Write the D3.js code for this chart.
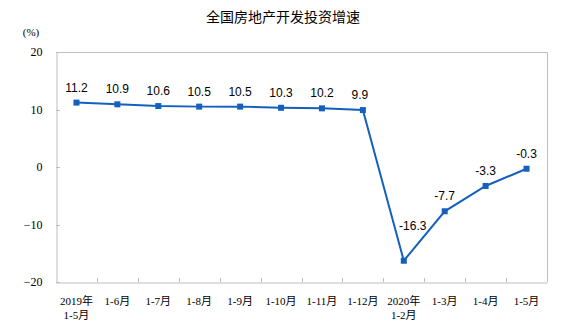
<!DOCTYPE html>
<html><head><meta charset="utf-8">
<script src="https://cdn.jsdelivr.net/npm/d3@7/dist/d3.min.js"></script>
<style>body{margin:0;background:#fff}</style>
</head><body>
<svg id="c" width="565" height="331"></svg>
<script>
const categories = [["2019年","1-5月"],["1-6月"],["1-7月"],["1-8月"],["1-9月"],["1-10月"],["1-11月"],["1-12月"],["2020年","1-2月"],["1-3月"],["1-4月"],["1-5月"]];
const values = [11.2,10.9,10.6,10.5,10.5,10.3,10.2,9.9,-16.3,-7.7,-3.3,-0.3];
const yTicks = [20,10,0,-10,-20];
const title = "全国房地产开发投资增速";

const svg = d3.select("#c");
const L=56,R=547,T=52,B=282;
const x = d3.scaleBand().domain(d3.range(values.length)).range([L,R]);
const y = d3.scaleLinear().domain([-20,20]).range([B,T]);
const grey="#bdbdbd", blue="#1560bd";
const serif="'Liberation Serif','Noto Sans CJK SC',serif";
const cjk="'Noto Sans CJK SC',sans-serif";

svg.append("text").attr("x",283).attr("y",22).attr("text-anchor","middle")
  .style("font-family",cjk).style("font-size","14px").attr("fill","#000").text(title);
svg.append("text").attr("x",31).attr("y",36).attr("text-anchor","middle")
  .style("font-family",serif).style("font-size","11px").attr("fill","#000").text("(%)");

// frame
svg.append("line").attr("x1",L).attr("x2",R).attr("y1",T+0.5).attr("y2",T+0.5).attr("stroke",grey);
svg.append("line").attr("x1",R+0.5).attr("x2",R+0.5).attr("y1",T).attr("y2",B).attr("stroke",grey);

// y axis
const ya = svg.append("g").attr("transform",`translate(${L+0.5},0)`)
  .call(d3.axisLeft(y).tickValues(yTicks).tickSize(0).tickPadding(14));
ya.select(".domain").attr("stroke",grey);
ya.selectAll("text").style("font-family",serif).style("font-size","12px").attr("fill","#000");
svg.append("g").selectAll("line").data(yTicks).join("line")
  .attr("x1",L).attr("x2",L+4).attr("y1",d=>Math.round(y(d))+0.5).attr("y2",d=>Math.round(y(d))+0.5).attr("stroke",grey);

// x axis
const xa = svg.append("g").attr("transform",`translate(0,${B+0.5})`)
  .call(d3.axisBottom(x).tickSize(0).tickFormat(""));
xa.select(".domain").attr("stroke",grey);
svg.append("g").selectAll("line").data(d3.range(1,values.length)).join("line")
  .attr("x1",i=>Math.round(x(i))+0.5).attr("x2",i=>Math.round(x(i))+0.5)
  .attr("y1",B-4).attr("y2",B).attr("stroke",grey);
const lab = svg.append("g").selectAll("text").data(categories).join("text")
  .attr("x",(d,i)=>x(i)+x.bandwidth()/2).attr("y",305).attr("text-anchor","middle")
  .style("font-family",serif).style("font-size","11px").attr("fill","#000");
lab.each(function(d){
  const t=d3.select(this);
  d.forEach((s,j)=>t.append("tspan").attr("x",t.attr("x")).attr("dy",j?14:0).text(s));
});

// line
const line = d3.line().x((d,i)=>x(i)+x.bandwidth()/2).y(d=>y(d));
svg.append("path").datum(values).attr("d",line).attr("fill","none").attr("stroke",blue).attr("stroke-width",2);
svg.append("g").selectAll("rect").data(values).join("rect")
  .attr("x",(d,i)=>x(i)+x.bandwidth()/2-3).attr("y",d=>y(d)-3).attr("width",6).attr("height",6).attr("fill",blue);

svg.append("g").selectAll("text").data(values).join("text")
  .attr("x",(d,i)=>x(i)+x.bandwidth()/2+(i===8?9:(i===7?-3:0)))
  .attr("y",(d,i)=>y(d)+(i===8?-31:-11))
  .attr("text-anchor","middle")
  .style("font-family","'Liberation Sans',Arial,sans-serif").style("font-size","12px").attr("fill","#000")
  .text(d=>d.toFixed(1));
</script>
</body></html>
